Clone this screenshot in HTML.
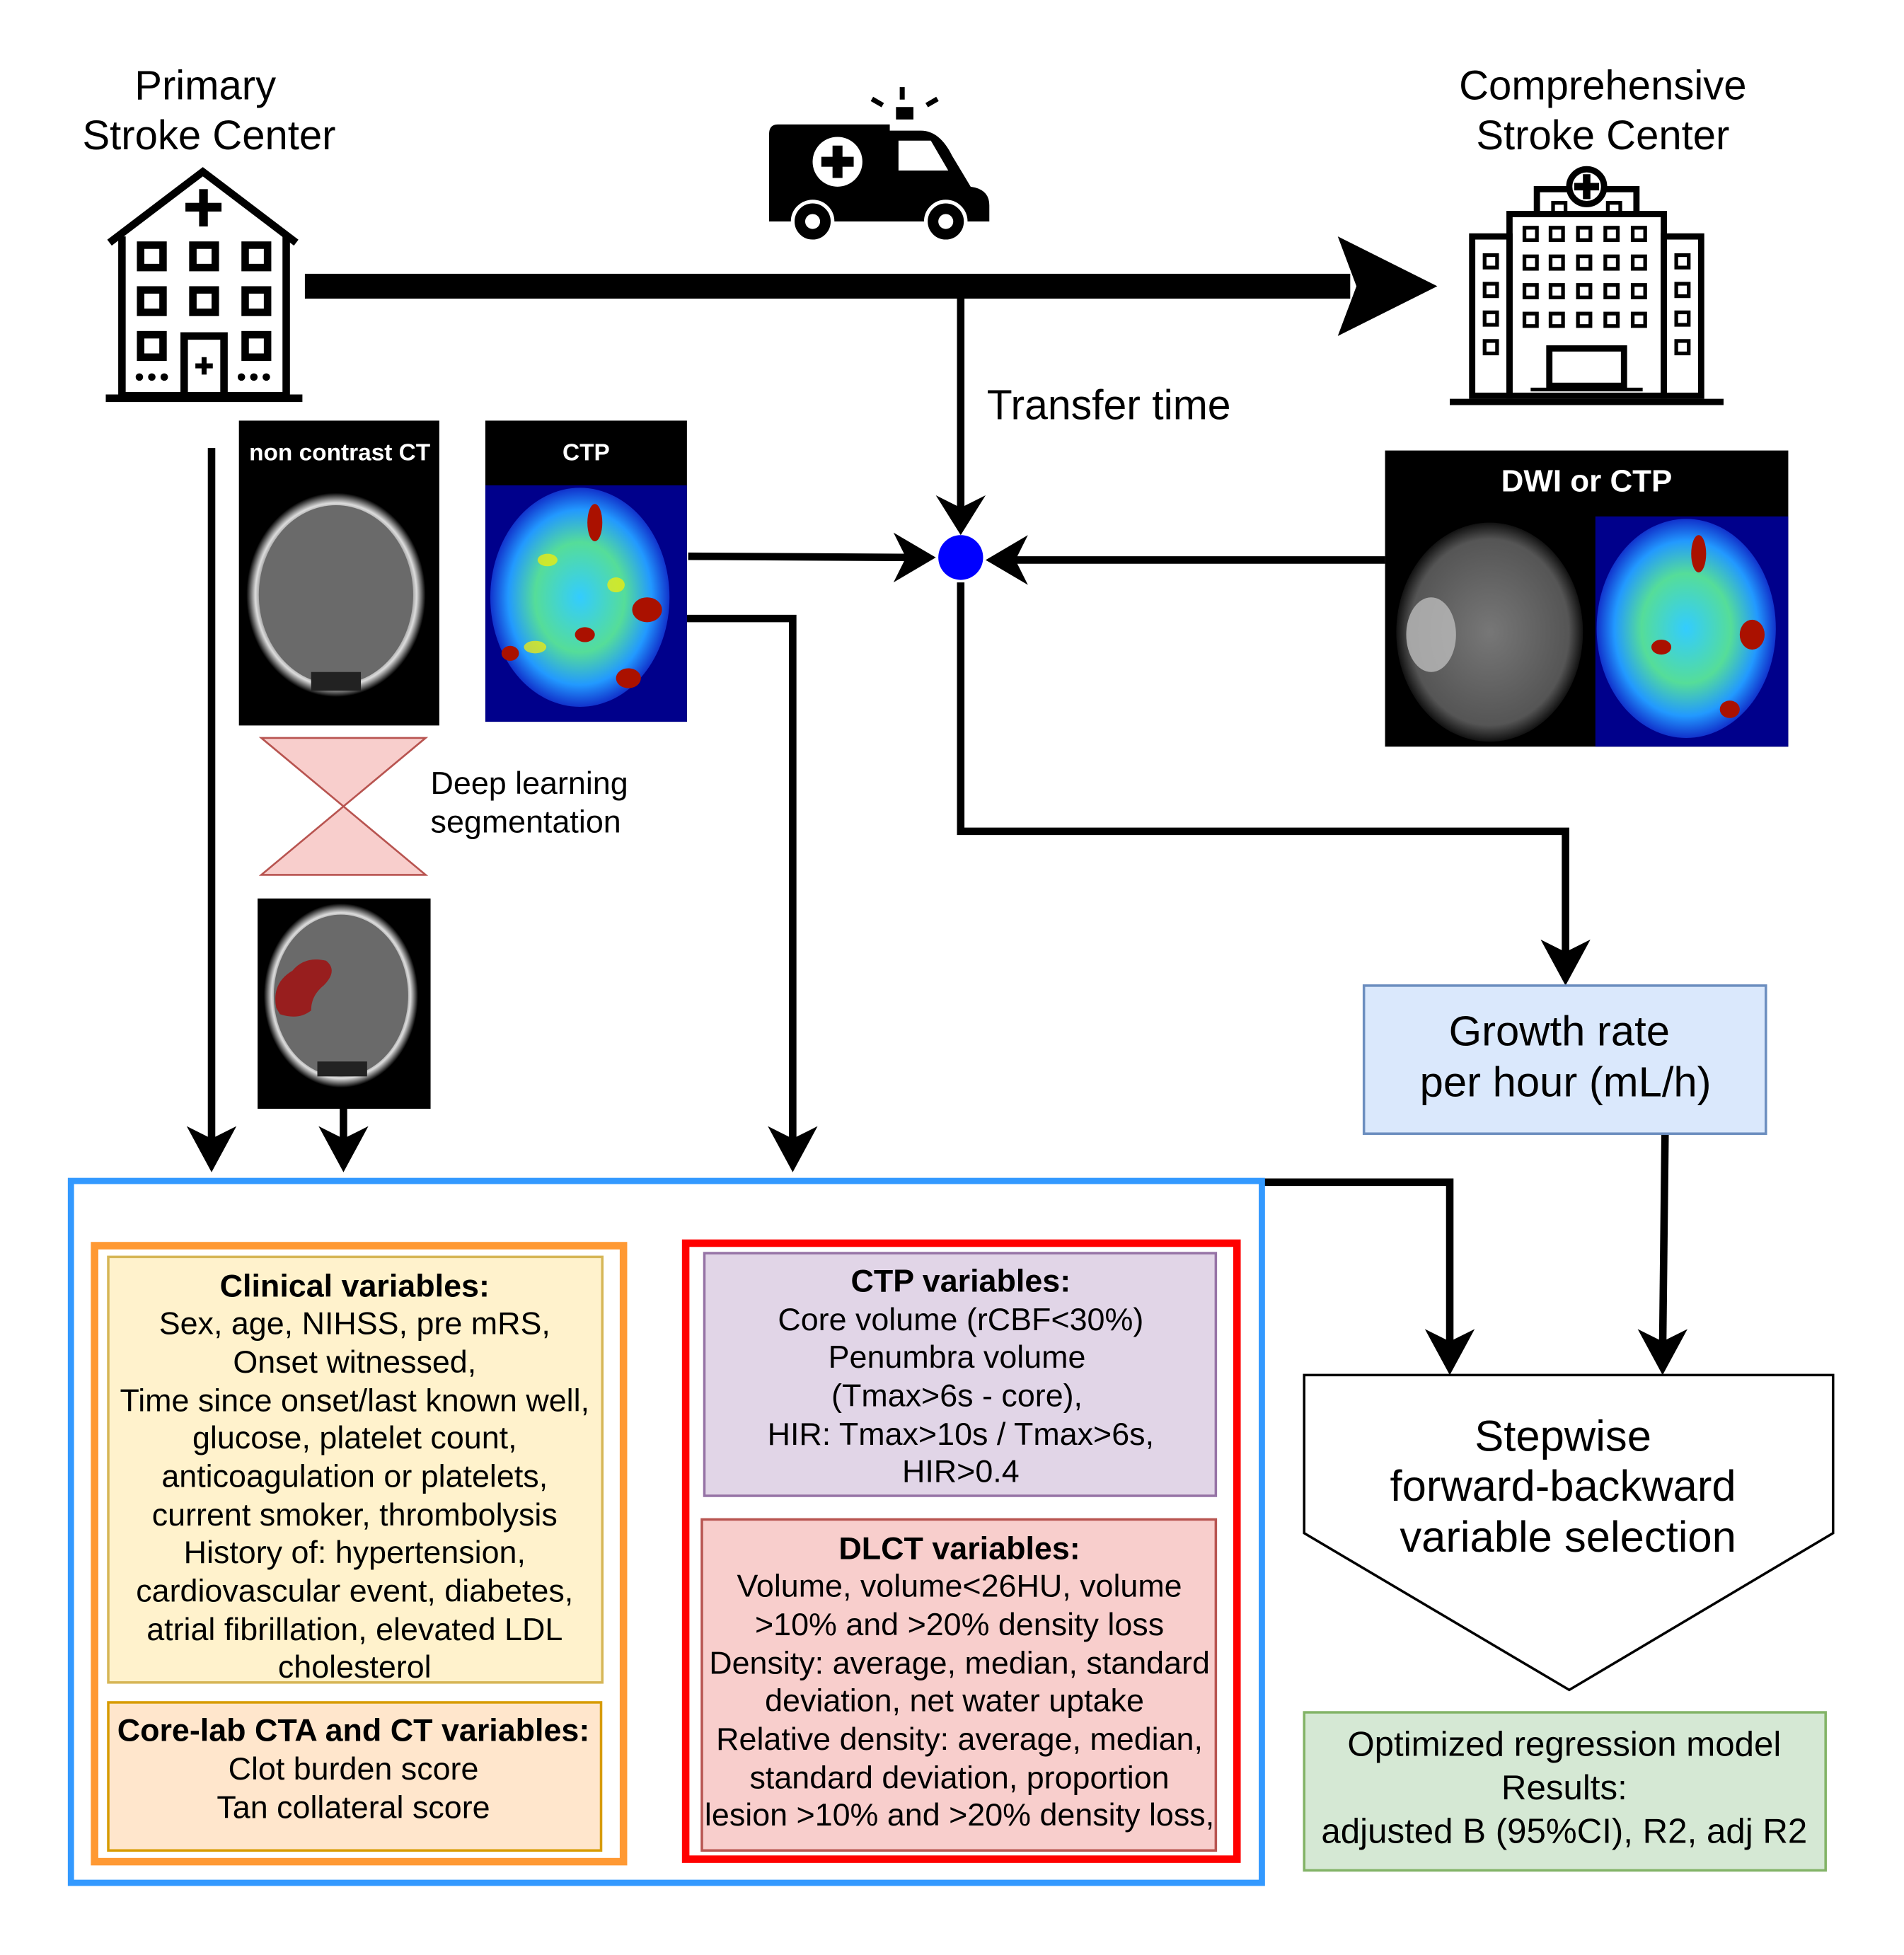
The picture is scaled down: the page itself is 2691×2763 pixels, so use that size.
<!DOCTYPE html>
<html><head><meta charset="utf-8"><style>
html,body{margin:0;padding:0;background:#fff}
svg{display:block}
text{font-family:"Liberation Sans",Arial,sans-serif;fill:#000}
</style></head><body>
<svg width="2691" height="2763" viewBox="0 0 1530 1571" preserveAspectRatio="none" xmlns="http://www.w3.org/2000/svg">
<defs>
<radialGradient id="ct" cx="50%" cy="50%" r="50%">
<stop offset="0" stop-color="#6a6a6a"/><stop offset="0.8" stop-color="#555"/><stop offset="0.9" stop-color="#ddd"/><stop offset="1" stop-color="#000"/>
</radialGradient>
<radialGradient id="dwi" cx="50%" cy="50%" r="50%">
<stop offset="0" stop-color="#777"/><stop offset="0.85" stop-color="#555"/><stop offset="1" stop-color="#111"/>
</radialGradient>
<radialGradient id="ctp" cx="50%" cy="50%" r="50%">
<stop offset="0" stop-color="#33ccff"/><stop offset="0.5" stop-color="#55dd99"/><stop offset="0.8" stop-color="#2299ff"/><stop offset="1" stop-color="#1133cc"/>
</radialGradient>
</defs>
<rect width="1530" height="1571" fill="#fff"/>

<text x="165" y="80" font-size="33" text-anchor="middle">Primary</text>
<text x="168" y="120" font-size="33" text-anchor="middle">Stroke Center</text>
<text x="1288" y="80" font-size="33" text-anchor="middle">Comprehensive</text>
<text x="1288" y="120" font-size="33" text-anchor="middle">Stroke Center</text>

<g fill="none" stroke="#000" stroke-width="6">
<path d="M88 195 L163 138 L238 195"/>
<path d="M98 190 V318 H230 V190"/>
<line x1="85" y1="320" x2="243" y2="320"/>
<rect x="113" y="197" width="18" height="18"/><rect x="155" y="197" width="18" height="18"/><rect x="197" y="197" width="18" height="18"/>
<rect x="113" y="233" width="18" height="18"/><rect x="155" y="233" width="18" height="18"/><rect x="197" y="233" width="18" height="18"/>
<rect x="113" y="269" width="18" height="18"/><rect x="197" y="269" width="18" height="18"/>
<rect x="148" y="270" width="32" height="48"/>
</g>
<rect x="160" y="152" width="7" height="30"/><rect x="149" y="163" width="29" height="7"/>
<g fill="#000"><circle cx="112" cy="303" r="3"/><circle cx="122" cy="303" r="3"/><circle cx="132" cy="303" r="3"/><circle cx="194" cy="303" r="3"/><circle cx="204" cy="303" r="3"/><circle cx="214" cy="303" r="3"/></g>
<rect x="162" y="287" width="4" height="14"/><rect x="157" y="292" width="14" height="4"/>

<rect x="245" y="220" width="840" height="20" fill="#000"/>
<polygon points="1075,190 1155,230 1075,270 1090,230" fill="#000"/>

<g fill="#000">
<path d="M625 100 H715 V105 H740 Q755 105 765 125 L780 150 Q795 152 795 165 V178 H618 V108 Q618 100 625 100 Z"/>
<rect x="720" y="86" width="14" height="10"/>
<rect x="700" y="80" width="10" height="4" transform="rotate(30 705 82)"/>
<rect x="744" y="80" width="10" height="4" transform="rotate(-30 749 82)"/>
<rect x="723" y="70" width="4" height="10"/>
</g>
<path d="M722 113 H748 L762 137 H722 Z" fill="#fff"/>
<circle cx="673" cy="130" r="20" fill="#fff"/>
<rect x="669" y="117" width="8" height="26" fill="#000"/><rect x="660" y="126" width="26" height="8" fill="#000"/>
<circle cx="653" cy="178" r="16" fill="#000" stroke="#fff" stroke-width="3"/><circle cx="653" cy="178" r="6" fill="#fff"/>
<circle cx="760" cy="178" r="16" fill="#000" stroke="#fff" stroke-width="3"/><circle cx="760" cy="178" r="6" fill="#fff"/>

<g fill="none" stroke="#000" stroke-width="5">
<rect x="1183" y="190" width="30" height="128"/>
<rect x="1337" y="190" width="30" height="128"/>
<rect x="1213" y="172" width="124" height="146"/>
<rect x="1235" y="152" width="80" height="20"/>
<circle cx="1275" cy="150" r="14" fill="#fff"/>
<line x1="1165" y1="323" x2="1385" y2="323"/>
<rect x="1245" y="280" width="60" height="30"/>
</g>
<rect x="1272" y="140" width="6" height="20"/><rect x="1265" y="147" width="20" height="6"/>
<g fill="none" stroke="#000" stroke-width="3">
<rect x="1193" y="205" width="10" height="10"/><rect x="1193" y="228" width="10" height="10"/><rect x="1193" y="251" width="10" height="10"/><rect x="1193" y="274" width="10" height="10"/>
<rect x="1347" y="205" width="10" height="10"/><rect x="1347" y="228" width="10" height="10"/><rect x="1347" y="251" width="10" height="10"/><rect x="1347" y="274" width="10" height="10"/>
<g id="cw"><rect x="1225" y="183" width="10" height="10"/><rect x="1246" y="183" width="10" height="10"/><rect x="1268" y="183" width="10" height="10"/><rect x="1290" y="183" width="10" height="10"/><rect x="1312" y="183" width="10" height="10"/></g>
<use href="#cw" y="23"/><use href="#cw" y="46"/><use href="#cw" y="69"/>
<rect x="1248" y="163" width="10" height="8"/><rect x="1292" y="163" width="10" height="8"/>
<line x1="1230" y1="313" x2="1320" y2="313"/>
</g>

<g fill="none" stroke="#000" stroke-width="6">
<line x1="772" y1="238" x2="772" y2="420"/>
<line x1="170" y1="360" x2="170" y2="925"/>
<polyline points="553,447 740,448"/>
<polyline points="552,497 637,497 637,925"/>
<line x1="1113" y1="450" x2="805" y2="450"/>
<polyline points="772,468 772,668 1258,668 1258,775"/>
<line x1="276" y1="891" x2="276" y2="925"/>
<polyline points="1014,950 1165,950 1165,1090"/>
<line x1="1338" y1="911" x2="1336" y2="1090"/>
</g>
<g fill="#000">
<polygon points="752,398 772,430 792,398 772,408"/>
<polygon points="150,905 170,942 190,905 170,915"/>
<polygon points="256,905 276,942 296,905 276,915"/>
<polygon points="617,905 637,942 657,905 637,915"/>
<polygon points="718,428 752,448 718,468 728,448"/>
<polygon points="826,430 792,450 826,470 816,450"/>
<polygon points="1238,755 1258,792 1278,755 1258,765"/>
<polygon points="1145,1068 1165,1105 1185,1068 1165,1078"/>
<polygon points="1316,1068 1336,1105 1356,1068 1336,1078"/>
</g>
<circle cx="772" cy="448" r="18" fill="#0000ff"/>
<text x="793" y="337" font-size="33.5">Transfer time</text>

<rect x="192" y="338" width="161" height="245" fill="#000"/>
<text x="273" y="370" font-size="19" font-weight="bold" text-anchor="middle" style="fill:#fff">non contrast CT</text>
<ellipse cx="270" cy="478" rx="72" ry="82" fill="url(#ct)"/>
<ellipse cx="270" cy="478" rx="62" ry="72" fill="#6a6a6a"/>
<rect x="250" y="540" width="40" height="15" fill="#222"/>

<rect x="390" y="338" width="162" height="242" fill="#000"/>
<text x="471" y="370" font-size="19" font-weight="bold" text-anchor="middle" style="fill:#fff">CTP</text>
<rect x="390" y="390" width="162" height="190" fill="#00008b"/>
<ellipse cx="466" cy="480" rx="72" ry="88" fill="url(#ctp)"/>
<g fill="#aa1100"><ellipse cx="478" cy="420" rx="6" ry="15"/><ellipse cx="520" cy="490" rx="12" ry="10"/><ellipse cx="505" cy="545" rx="10" ry="8"/><ellipse cx="410" cy="525" rx="7" ry="6"/><ellipse cx="470" cy="510" rx="8" ry="6"/></g>
<g fill="#ffee00" opacity="0.7"><ellipse cx="440" cy="450" rx="8" ry="5"/><ellipse cx="495" cy="470" rx="7" ry="6"/><ellipse cx="430" cy="520" rx="9" ry="5"/></g>

<polygon points="210,593 342,593 276,648 342,703 210,703 276,648" fill="#f8cecc" stroke="#b85450" stroke-width="1.5"/>
<text x="346" y="638" font-size="25.5">Deep learning</text>
<text x="346" y="669" font-size="25.5">segmentation</text>

<rect x="207" y="722" width="139" height="169" fill="#000"/>
<ellipse cx="274" cy="800" rx="62" ry="74" fill="url(#ct)"/>
<ellipse cx="274" cy="800" rx="54" ry="65" fill="#6a6a6a"/>
<path d="M222 810 Q218 790 235 780 Q245 768 262 772 Q272 780 260 792 Q250 800 250 812 Q240 820 225 815 Z" fill="#a01010" opacity="0.85"/>
<rect x="255" y="853" width="40" height="12" fill="#222"/>

<rect x="1113" y="362" width="324" height="238" fill="#000"/>
<text x="1275" y="395" font-size="25" font-weight="bold" text-anchor="middle" style="fill:#fff">DWI or CTP</text>
<ellipse cx="1197" cy="508" rx="75" ry="88" fill="url(#dwi)"/>
<ellipse cx="1150" cy="510" rx="20" ry="30" fill="#bbb" opacity="0.8"/>
<rect x="1282" y="415" width="155" height="185" fill="#00008b"/>
<ellipse cx="1355" cy="505" rx="72" ry="88" fill="url(#ctp)"/>
<g fill="#aa1100"><ellipse cx="1365" cy="445" rx="6" ry="15"/><ellipse cx="1408" cy="510" rx="10" ry="12"/><ellipse cx="1390" cy="570" rx="8" ry="7"/><ellipse cx="1335" cy="520" rx="8" ry="6"/></g>

<rect x="1096" y="792" width="323" height="119" fill="#dae8fc" stroke="#6c8ebf" stroke-width="2"/>
<text x="1253" y="840" font-size="34" text-anchor="middle">Growth rate</text>
<text x="1258" y="881" font-size="34" text-anchor="middle">per hour (mL/h)</text>

<polygon points="1048,1105 1473,1105 1473,1232 1261,1358 1048,1232" fill="#fff" stroke="#000" stroke-width="2"/>
<text x="1256" y="1166" font-size="35" text-anchor="middle">Stepwise</text>
<text x="1256" y="1206" font-size="35" text-anchor="middle">forward-backward</text>
<text x="1260" y="1247" font-size="35" text-anchor="middle">variable selection</text>

<rect x="1048" y="1376" width="419" height="127" fill="#d5e8d4" stroke="#82b366" stroke-width="2"/>
<g font-size="28" text-anchor="middle">
<text x="1257" y="1411">Optimized regression model</text>
<text x="1257" y="1446">Results:</text>
<text x="1257" y="1481">adjusted B (95%CI), R2, adj R2</text>
</g>

<rect x="57" y="949" width="957" height="564" fill="none" stroke="#3399ff" stroke-width="5"/>
<rect x="76" y="1001" width="425" height="495" fill="none" stroke="#ff9933" stroke-width="6"/>
<rect x="87" y="1010" width="397" height="342" fill="#fff2cc" stroke="#d6b656" stroke-width="2"/>
<rect x="87" y="1368" width="396" height="119" fill="#ffe6cc" stroke="#d79b00" stroke-width="2"/>
<rect x="551" y="999" width="443" height="495" fill="none" stroke="#ff0000" stroke-width="6"/>
<rect x="566" y="1007" width="411" height="195" fill="#e1d5e7" stroke="#9673a6" stroke-width="2"/>
<rect x="564" y="1221" width="413" height="266" fill="#f8cecc" stroke="#b85450" stroke-width="2"/>

<g font-size="25.5" text-anchor="middle">
<text x="285" y="1042" font-weight="bold">Clinical variables:</text>
<text x="285" y="1072">Sex, age, NIHSS, pre mRS,</text>
<text x="285" y="1103">Onset witnessed,</text>
<text x="285" y="1134">Time since onset/last known well,</text>
<text x="285" y="1164">glucose, platelet count,</text>
<text x="285" y="1195">anticoagulation or platelets,</text>
<text x="285" y="1226">current smoker, thrombolysis</text>
<text x="285" y="1256">History of: hypertension,</text>
<text x="285" y="1287">cardiovascular event, diabetes,</text>
<text x="285" y="1318">atrial fibrillation, elevated LDL</text>
<text x="285" y="1348">cholesterol</text>
<text x="284" y="1399" font-weight="bold">Core-lab CTA and CT variables:</text>
<text x="284" y="1430">Clot burden score</text>
<text x="284" y="1461">Tan collateral score</text>

<text x="772" y="1038" font-weight="bold">CTP variables:</text>
<text x="772" y="1069">Core volume (rCBF&lt;30%)</text>
<text x="769" y="1099">Penumbra volume</text>
<text x="769" y="1130">(Tmax&gt;6s - core),</text>
<text x="772" y="1161">HIR: Tmax&gt;10s / Tmax&gt;6s,</text>
<text x="772" y="1191">HIR&gt;0.4</text>
<text x="771" y="1253" font-weight="bold">DLCT variables:</text>
<text x="771" y="1283">Volume, volume&lt;26HU, volume</text>
<text x="771" y="1314">&gt;10% and &gt;20% density loss</text>
<text x="771" y="1345">Density: average, median, standard</text>
<text x="767" y="1375">deviation, net water uptake</text>
<text x="771" y="1406">Relative density: average, median,</text>
<text x="771" y="1437">standard deviation, proportion</text>
<text x="771" y="1467">lesion &gt;10% and &gt;20% density loss,</text>
</g>
</svg>
</body></html>
